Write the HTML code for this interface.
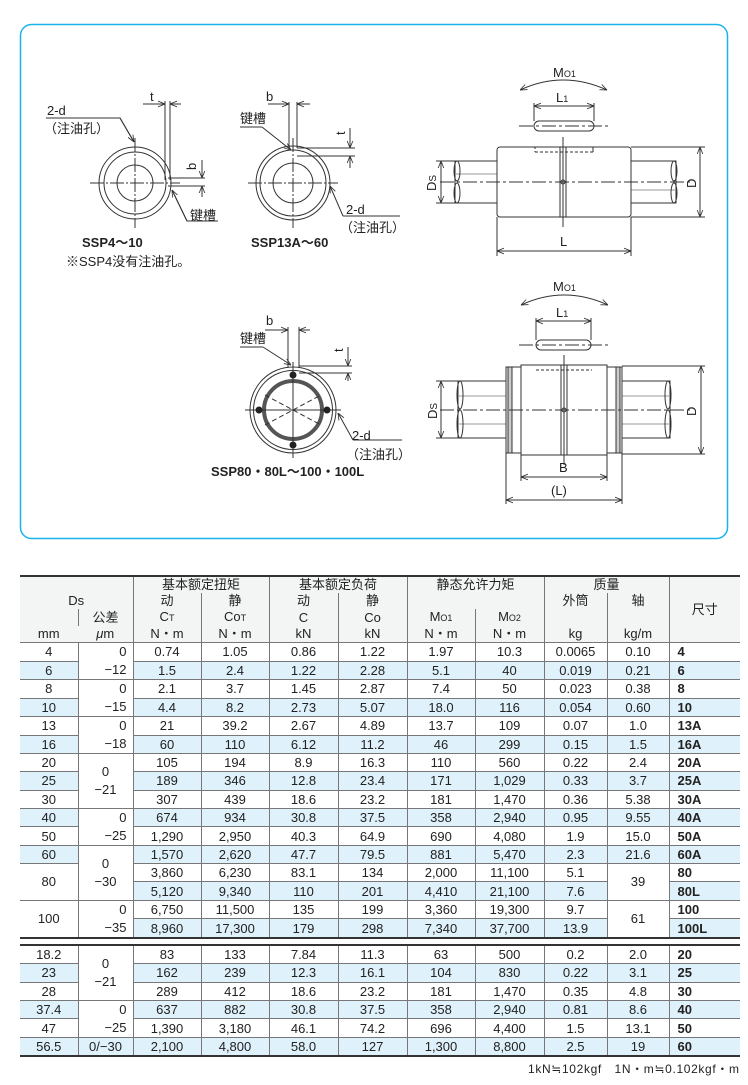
<!DOCTYPE html>
<html><head><meta charset="utf-8">
<style>
body{margin:0;width:748px;height:1085px;background:#fff;position:relative;overflow:hidden;font-family:"Liberation Sans","Noto Sans CJK SC",sans-serif;color:#222}
svg{position:absolute;left:0;top:0}
table{position:absolute;left:20px;border-collapse:collapse;table-layout:fixed;font-size:13px;font-family:"Liberation Sans Narrow","Liberation Sans","Noto Sans CJK SC",sans-serif}
td{border:1px solid #777;padding:0;height:17.3px;line-height:17px;text-align:center;white-space:nowrap;overflow:hidden}
tr td:first-child{border-left:none}
tr td:last-child{border-right:none}
.b{background:#dff1fa}
.s{font-weight:bold;text-align:left;padding-left:8px}
#t1{top:575px;border-top:2px solid #333;border-bottom:2px solid #333}
#t2{top:944px;border-top:2px solid #333;border-bottom:2px solid #333}
.h td{background:#f3f4f4;border-top:none;border-bottom:none;height:16px;line-height:16px;font-size:13px}
.tol{line-height:18px}
.tl{text-align:right;padding-right:6px}
</style></head><body>
<svg width="748" height="1085" viewBox="0 0 748 1085" font-family="Liberation Sans, Noto Sans CJK SC, sans-serif" fill="none" stroke="#333" stroke-width="1">
<defs>
<marker id="a" viewBox="0 0 10 10" refX="10" refY="5" markerWidth="7" markerHeight="7" orient="auto-start-reverse"><path d="M0,1 L10,5 L0,9" fill="none" stroke="#333" stroke-width="1.2"/></marker>
</defs>
<rect x="20.5" y="24.5" width="707" height="514" rx="11" stroke="#1ab4ea" stroke-width="1.5"/>

<g>
<circle cx="135" cy="183" r="36"/><circle cx="135" cy="183" r="31"/><circle cx="135" cy="183" r="18"/>
<line x1="90" y1="183" x2="180" y2="183" stroke-dasharray="14,2,2,2"/>
<line x1="135" y1="138" x2="135" y2="228" stroke-dasharray="14,2,2,2"/>
<line x1="165" y1="101" x2="165" y2="180"/><line x1="170" y1="101" x2="170" y2="180"/>
<line x1="143" y1="104" x2="165" y2="104" marker-end="url(#a)"/><line x1="181" y1="104" x2="170" y2="104" marker-end="url(#a)"/>
<line x1="168" y1="178" x2="205" y2="178"/><line x1="168" y1="186" x2="205" y2="186"/>
<line x1="202" y1="160" x2="202" y2="178" marker-end="url(#a)"/><line x1="202" y1="197" x2="202" y2="186" marker-end="url(#a)"/>
<polyline points="46,118 120,118 134,142" /><line x1="120" y1="118" x2="134" y2="142" marker-end="url(#a)"/>
<polyline points="218,221 187,221 172,190"/><line x1="187" y1="221" x2="172" y2="190" marker-end="url(#a)"/>
</g>
<g>
<circle cx="293" cy="183" r="37"/><circle cx="293" cy="183" r="33"/><circle cx="293" cy="183" r="20"/>
<line x1="248" y1="183" x2="338" y2="183" stroke-dasharray="14,2,2,2"/>
<line x1="293" y1="138" x2="293" y2="228" stroke-dasharray="14,2,2,2"/>
<line x1="289" y1="102" x2="289" y2="148"/><line x1="297" y1="102" x2="297" y2="148"/>
<line x1="268" y1="104" x2="289" y2="104" marker-end="url(#a)"/><line x1="310" y1="104" x2="297" y2="104" marker-end="url(#a)"/>
<line x1="297" y1="148" x2="355" y2="148"/><line x1="297" y1="156" x2="355" y2="156"/>
<line x1="350" y1="128" x2="350" y2="148" marker-end="url(#a)"/><line x1="350" y1="168" x2="350" y2="156" marker-end="url(#a)"/>
<line x1="240" y1="127" x2="262" y2="127"/><line x1="262" y1="127" x2="291" y2="150" marker-end="url(#a)"/>
<line x1="400" y1="216" x2="343" y2="216"/><line x1="343" y1="216" x2="330" y2="186" marker-end="url(#a)"/>
</g>
<g>
<circle cx="293" cy="410" r="43"/><circle cx="293" cy="410" r="39.5"/>
<circle cx="293" cy="410" r="29" stroke="#555" stroke-width="4"/>
<line x1="245" y1="410" x2="341" y2="410"/><line x1="293" y1="362" x2="293" y2="458"/>
<line x1="265" y1="395" x2="321" y2="425" stroke-dasharray="5,3"/><line x1="265" y1="425" x2="321" y2="395" stroke-dasharray="5,3"/>
<g fill="#222" stroke="none"><circle cx="293" cy="375" r="3.5"/><circle cx="293" cy="445" r="3.5"/><circle cx="259" cy="410" r="3.5"/><circle cx="327" cy="410" r="3.5"/></g>
<line x1="288" y1="327" x2="288" y2="368"/><line x1="299" y1="327" x2="299" y2="368"/>
<line x1="265" y1="330" x2="288" y2="330" marker-end="url(#a)"/><line x1="310" y1="330" x2="299" y2="330" marker-end="url(#a)"/>
<line x1="299" y1="366" x2="352" y2="366"/><line x1="299" y1="373" x2="352" y2="373"/>
<line x1="348" y1="347" x2="348" y2="366" marker-end="url(#a)"/><line x1="348" y1="381" x2="348" y2="373" marker-end="url(#a)"/>
<line x1="240" y1="347" x2="263" y2="347"/><line x1="263" y1="347" x2="291" y2="365" marker-end="url(#a)"/>
<line x1="402" y1="440" x2="353" y2="440"/><line x1="353" y1="440" x2="338" y2="413" marker-end="url(#a)"/>
</g>
<g>
<rect x="455" y="161" width="42" height="42"/><rect x="631" y="161" width="45" height="42"/>
<line x1="455" y1="174" x2="497" y2="174" stroke="#999"/><line x1="631" y1="190" x2="676" y2="190" stroke="#999"/>
<ellipse cx="457" cy="171" rx="3" ry="10" /><ellipse cx="457" cy="193" rx="3" ry="10"/>
<ellipse cx="674" cy="171" rx="3" ry="10" /><ellipse cx="674" cy="193" rx="3" ry="10"/>
<rect x="497" y="147" width="134" height="70" rx="3" fill="#fff"/>
<line x1="560" y1="147" x2="560" y2="217"/><line x1="566" y1="147" x2="566" y2="217"/>
<line x1="535" y1="147" x2="535" y2="152" stroke-dasharray="2,2"/><line x1="535" y1="152" x2="593" y2="152" stroke-dasharray="3,2"/><line x1="593" y1="147" x2="593" y2="152"/>
<line x1="563" y1="137" x2="563" y2="227"/>
<line x1="440" y1="182" x2="690" y2="182" stroke-dasharray="14,3,3,3"/>
<circle cx="563" cy="182" r="2"/>
<line x1="436" y1="161" x2="455" y2="161"/><line x1="436" y1="203" x2="455" y2="203"/>
<line x1="441" y1="161" x2="441" y2="203" marker-start="url(#a)" marker-end="url(#a)"/>
<line x1="631" y1="147" x2="705" y2="147"/><line x1="631" y1="217" x2="705" y2="217"/>
<line x1="700" y1="147" x2="700" y2="217" marker-start="url(#a)" marker-end="url(#a)"/>
<line x1="497" y1="217" x2="497" y2="256"/><line x1="631" y1="217" x2="631" y2="256"/>
<line x1="497" y1="251" x2="631" y2="251" marker-start="url(#a)" marker-end="url(#a)"/>
<rect x="534" y="121" width="60" height="10" rx="5"/>
<line x1="519" y1="126" x2="609" y2="126" stroke-dasharray="14,3,3,3"/>
<line x1="534" y1="103" x2="534" y2="121"/><line x1="594" y1="103" x2="594" y2="121"/>
<line x1="534" y1="106" x2="594" y2="106" marker-start="url(#a)" marker-end="url(#a)"/>
<path d="M520,90 Q563,70 607,90" marker-start="url(#a)" marker-end="url(#a)"/>
</g>
<g>
<rect x="458" y="381" width="49" height="57"/><rect x="621" y="381" width="49" height="57"/>
<line x1="458" y1="396" x2="507" y2="396" stroke="#999"/><line x1="458" y1="424" x2="507" y2="424" stroke="#999"/>
<line x1="621" y1="396" x2="670" y2="396" stroke="#999"/><line x1="621" y1="424" x2="670" y2="424" stroke="#999"/>
<ellipse cx="460" cy="395" rx="3" ry="14"/><ellipse cx="460" cy="424" rx="3" ry="14"/>
<ellipse cx="668" cy="395" rx="3" ry="14"/><ellipse cx="668" cy="424" rx="3" ry="14"/>
<rect x="506" y="367" width="116" height="86" fill="#fff"/>
<rect x="508" y="367" width="4" height="86" fill="#ccc"/><rect x="616" y="367" width="4" height="86" fill="#ccc"/>
<rect x="521" y="365" width="86" height="90" fill="#fff"/>
<line x1="561" y1="365" x2="561" y2="455"/><line x1="567" y1="365" x2="567" y2="455"/>
<line x1="536" y1="370" x2="592" y2="370" stroke-dasharray="3,2"/>
<line x1="564" y1="355" x2="564" y2="465"/>
<line x1="440" y1="410" x2="690" y2="410" stroke-dasharray="14,3,3,3"/>
<circle cx="564" cy="410" r="2"/>
<line x1="436" y1="381" x2="458" y2="381"/><line x1="436" y1="438" x2="458" y2="438"/>
<line x1="441" y1="381" x2="441" y2="438" marker-start="url(#a)" marker-end="url(#a)"/>
<line x1="622" y1="366" x2="705" y2="366"/><line x1="622" y1="454" x2="705" y2="454"/>
<line x1="701" y1="366" x2="701" y2="454" marker-start="url(#a)" marker-end="url(#a)"/>
<line x1="521" y1="455" x2="521" y2="481"/><line x1="607" y1="455" x2="607" y2="481"/>
<line x1="521" y1="477" x2="607" y2="477" marker-start="url(#a)" marker-end="url(#a)"/>
<line x1="506" y1="453" x2="506" y2="504"/><line x1="622" y1="453" x2="622" y2="504"/>
<line x1="506" y1="500" x2="622" y2="500" marker-start="url(#a)" marker-end="url(#a)"/>
<rect x="536" y="340" width="55" height="10" rx="5"/>
<line x1="519" y1="345" x2="609" y2="345" stroke-dasharray="14,3,3,3"/>
<line x1="536" y1="318" x2="536" y2="340"/><line x1="591" y1="318" x2="591" y2="340"/>
<line x1="536" y1="321" x2="591" y2="321" marker-start="url(#a)" marker-end="url(#a)"/>
<path d="M521,305 Q564,285 608,305" marker-start="url(#a)" marker-end="url(#a)"/>
</g>

<g fill="#222" stroke="none" font-size="13">
<text x="150" y="101">t</text>
<text x="47" y="115">2-d</text><text x="44" y="133">（注油孔）</text>
<text x="196" y="170" transform="rotate(-90 196 170)">b</text>
<text x="190" y="220">键槽</text>
<text x="82" y="247" font-weight="bold">SSP4～10</text>
<text x="66" y="266">※SSP4没有注油孔。</text>
<text x="266" y="101">b</text>
<text x="240" y="123">键槽</text>
<text x="345" y="135" transform="rotate(-90 345 135)">t</text>
<text x="346" y="214">2-d</text><text x="340" y="232">（注油孔）</text>
<text x="251" y="247" font-weight="bold">SSP13A～60</text>
<text x="266" y="325">b</text>
<text x="240" y="343">键槽</text>
<text x="343" y="352" transform="rotate(-90 343 352)">t</text>
<text x="352" y="440">2-d</text><text x="346" y="459">（注油孔）</text>
<text x="211" y="476" font-weight="bold">SSP80・80L～100・100L</text>
<text x="553" y="77">M<tspan font-size="9">O1</tspan></text>
<text x="556" y="102">L<tspan font-size="9">1</tspan></text>
<text x="436" y="191" transform="rotate(-90 436 191)">D<tspan font-size="10">S</tspan></text>
<text x="696" y="188" transform="rotate(-90 696 188)">D</text>
<text x="560" y="246">L</text>
<text x="553" y="291">M<tspan font-size="9">O1</tspan></text>
<text x="556" y="317">L<tspan font-size="9">1</tspan></text>
<text x="437" y="419" transform="rotate(-90 437 419)">D<tspan font-size="10">S</tspan></text>
<text x="696" y="416" transform="rotate(-90 696 416)">D</text>
<text x="559" y="472">B</text>
<text x="551" y="495">(L)</text>
<text x="528" y="1073" font-size="12" textLength="211">1kN≒102kgf　1N・m≒0.102kgf・m</text>
</g>
</svg>

<table id="t1">
<colgroup><col style="width:58px"><col style="width:55px"><col style="width:68px"><col style="width:68px"><col style="width:69px"><col style="width:69px"><col style="width:68px"><col style="width:69px"><col style="width:63px"><col style="width:62px"><col style="width:71px"></colgroup>
<tr class="h"><td colspan="2" rowspan="2" style="vertical-align:bottom">Ds</td><td colspan="2">基本额定扭矩</td><td colspan="2">基本额定负荷</td><td colspan="2" rowspan="2" style="vertical-align:top">静态允许力矩</td><td colspan="2">质量</td><td rowspan="4">尺寸</td></tr>
<tr class="h"><td>动</td><td>静</td><td>动</td><td>静</td><td rowspan="2" style="vertical-align:top">外筒</td><td rowspan="2" style="vertical-align:top">轴</td></tr>
<tr class="h"><td rowspan="2" style="vertical-align:bottom;border-right:none">mm</td><td style="border-left:1px solid #777">公差</td><td>C<span style="font-size:9px">T</span></td><td>Co<span style="font-size:9px">T</span></td><td>C</td><td>Co</td><td>M<span style="font-size:9px">O1</span></td><td>M<span style="font-size:9px">O2</span></td></tr>
<tr class="h"><td><i>μ</i>m</td><td>N・m</td><td>N・m</td><td>kN</td><td>kN</td><td>N・m</td><td>N・m</td><td>kg</td><td>kg/m</td></tr>
<tr><td>4</td><td rowspan="2" class="tl tol">0<br>−12</td><td>0.74</td><td>1.05</td><td>0.86</td><td>1.22</td><td>1.97</td><td>10.3</td><td>0.0065</td><td>0.10</td><td class="s">4</td></tr>
<tr class="b"><td>6</td><td>1.5</td><td>2.4</td><td>1.22</td><td>2.28</td><td>5.1</td><td>40</td><td>0.019</td><td>0.21</td><td class="s">6</td></tr>
<tr><td>8</td><td rowspan="2" class="tl tol">0<br>−15</td><td>2.1</td><td>3.7</td><td>1.45</td><td>2.87</td><td>7.4</td><td>50</td><td>0.023</td><td>0.38</td><td class="s">8</td></tr>
<tr class="b"><td>10</td><td>4.4</td><td>8.2</td><td>2.73</td><td>5.07</td><td>18.0</td><td>116</td><td>0.054</td><td>0.60</td><td class="s">10</td></tr>
<tr><td>13</td><td rowspan="2" class="tl tol">0<br>−18</td><td>21</td><td>39.2</td><td>2.67</td><td>4.89</td><td>13.7</td><td>109</td><td>0.07</td><td>1.0</td><td class="s">13A</td></tr>
<tr class="b"><td>16</td><td>60</td><td>110</td><td>6.12</td><td>11.2</td><td>46</td><td>299</td><td>0.15</td><td>1.5</td><td class="s">16A</td></tr>
<tr><td>20</td><td rowspan="3" class="tol">0<br>−21</td><td>105</td><td>194</td><td>8.9</td><td>16.3</td><td>110</td><td>560</td><td>0.22</td><td>2.4</td><td class="s">20A</td></tr>
<tr class="b"><td>25</td><td>189</td><td>346</td><td>12.8</td><td>23.4</td><td>171</td><td>1,029</td><td>0.33</td><td>3.7</td><td class="s">25A</td></tr>
<tr><td>30</td><td>307</td><td>439</td><td>18.6</td><td>23.2</td><td>181</td><td>1,470</td><td>0.36</td><td>5.38</td><td class="s">30A</td></tr>
<tr class="b"><td>40</td><td rowspan="2" class="tl tol" style="background:#fff">0<br>−25</td><td>674</td><td>934</td><td>30.8</td><td>37.5</td><td>358</td><td>2,940</td><td>0.95</td><td>9.55</td><td class="s">40A</td></tr>
<tr><td>50</td><td>1,290</td><td>2,950</td><td>40.3</td><td>64.9</td><td>690</td><td>4,080</td><td>1.9</td><td>15.0</td><td class="s">50A</td></tr>
<tr class="b"><td>60</td><td rowspan="3" class="tol" style="background:#fff">0<br>−30</td><td>1,570</td><td>2,620</td><td>47.7</td><td>79.5</td><td>881</td><td>5,470</td><td>2.3</td><td>21.6</td><td class="s">60A</td></tr>
<tr><td rowspan="2">80</td><td>3,860</td><td>6,230</td><td>83.1</td><td>134</td><td>2,000</td><td>11,100</td><td>5.1</td><td rowspan="2">39</td><td class="s">80</td></tr>
<tr class="b"><td>5,120</td><td>9,340</td><td>110</td><td>201</td><td>4,410</td><td>21,100</td><td>7.6</td><td class="s">80L</td></tr>
<tr><td rowspan="2">100</td><td rowspan="2" class="tl tol">0<br>−35</td><td>6,750</td><td>11,500</td><td>135</td><td>199</td><td>3,360</td><td>19,300</td><td>9.7</td><td rowspan="2">61</td><td class="s">100</td></tr>
<tr class="b"><td>8,960</td><td>17,300</td><td>179</td><td>298</td><td>7,340</td><td>37,700</td><td>13.9</td><td class="s">100L</td></tr>
</table>

<table id="t2">
<colgroup><col style="width:58px"><col style="width:55px"><col style="width:68px"><col style="width:68px"><col style="width:69px"><col style="width:69px"><col style="width:68px"><col style="width:69px"><col style="width:63px"><col style="width:62px"><col style="width:71px"></colgroup>
<tr><td>18.2</td><td rowspan="3" class="tol">0<br>−21</td><td>83</td><td>133</td><td>7.84</td><td>11.3</td><td>63</td><td>500</td><td>0.2</td><td>2.0</td><td class="s">20</td></tr>
<tr class="b"><td>23</td><td>162</td><td>239</td><td>12.3</td><td>16.1</td><td>104</td><td>830</td><td>0.22</td><td>3.1</td><td class="s">25</td></tr>
<tr><td>28</td><td>289</td><td>412</td><td>18.6</td><td>23.2</td><td>181</td><td>1,470</td><td>0.35</td><td>4.8</td><td class="s">30</td></tr>
<tr class="b"><td>37.4</td><td rowspan="2" class="tl tol" style="background:#fff">0<br>−25</td><td>637</td><td>882</td><td>30.8</td><td>37.5</td><td>358</td><td>2,940</td><td>0.81</td><td>8.6</td><td class="s">40</td></tr>
<tr><td>47</td><td>1,390</td><td>3,180</td><td>46.1</td><td>74.2</td><td>696</td><td>4,400</td><td>1.5</td><td>13.1</td><td class="s">50</td></tr>
<tr class="b"><td>56.5</td><td>0/−30</td><td>2,100</td><td>4,800</td><td>58.0</td><td>127</td><td>1,300</td><td>8,800</td><td>2.5</td><td>19</td><td class="s">60</td></tr>
</table>
</body></html>
